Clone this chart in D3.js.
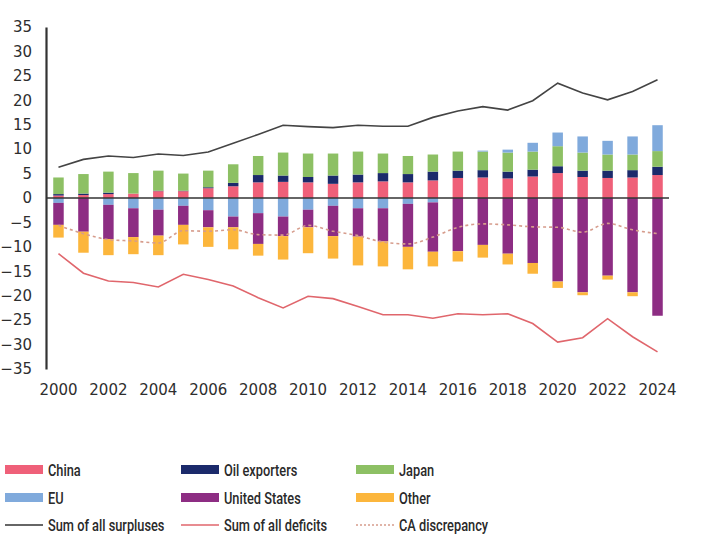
<!DOCTYPE html>
<html>
<head>
<meta charset="utf-8">
<script src="https://cdn.jsdelivr.net/npm/d3@7"></script>
<style>
  body { margin: 0; background: #fff; }
  svg { display: block; font-family: Roboto, "Open Sans", sans-serif; }
</style>
</head>
<body>
<svg width="707" height="551"></svg>
<script>
// ---- data (% of world GDP-ish units) ----
const years = d3.range(2000, 2025);
const china = [0.5, 0.6, 0.8, 0.9, 1.4, 1.4, 2.0, 2.4, 3.2, 3.3, 3.2, 2.9, 3.2, 3.4, 3.2, 3.6, 4.1, 4.2, 4.0, 4.4, 5.1, 4.3, 4.1, 4.2, 4.7];
const oil = [0.3, 0.3, 0.3, 0.0, 0.1, 0.1, 0.2, 0.7, 1.5, 1.3, 1.1, 1.7, 1.6, 1.7, 1.7, 1.8, 1.5, 1.5, 1.4, 1.4, 1.4, 1.3, 1.5, 1.5, 1.7];
const japan = [3.4, 4.0, 4.3, 4.2, 4.1, 3.5, 3.4, 3.8, 3.9, 4.7, 4.8, 4.5, 4.7, 4.0, 3.7, 3.5, 3.9, 3.8, 3.9, 3.7, 4.1, 3.7, 3.3, 3.2, 3.2];
const eu = [-1.0, 0.0, -1.4, -2.1, -2.4, -1.6, -2.5, -3.8, -3.1, -3.8, -2.4, -1.6, -2.1, -2.1, -1.2, -0.9, 0.0, 0.2, 0.6, 1.8, 2.8, 3.3, 2.8, 3.7, 5.3];
const us = [-4.5, -6.9, -7.0, -5.9, -5.3, -3.9, -3.5, -2.2, -6.3, -4.0, -3.6, -6.2, -5.8, -6.8, -8.8, -10.1, -10.9, -9.6, -11.4, -13.3, -17.1, -19.3, -15.9, -19.3, -24.1];
const other = [-2.6, -4.3, -3.3, -3.5, -4.0, -4.0, -4.0, -4.5, -2.4, -4.8, -5.3, -4.6, -5.9, -5.1, -4.6, -3.0, -2.1, -2.6, -2.2, -2.2, -1.3, -0.6, -0.8, -0.8, 0.0];
const surpluses = [6.3, 7.9, 8.6, 8.3, 9.0, 8.7, 9.4, 11.2, 13.0, 14.9, 14.6, 14.4, 14.9, 14.7, 14.7, 16.5, 17.8, 18.7, 18.0, 19.9, 23.5, 21.5, 20.1, 21.8, 24.2];
const deficits = [-11.4, -15.4, -17.0, -17.3, -18.2, -15.6, -16.7, -18.0, -20.4, -22.5, -20.1, -20.6, -22.2, -23.9, -23.9, -24.6, -23.7, -23.9, -23.7, -25.7, -29.5, -28.6, -24.7, -28.4, -31.5];
const discrepancy = [-5.6, -7.3, -8.5, -8.8, -9.2, -6.7, -6.8, -6.5, -7.5, -7.6, -5.6, -6.8, -7.7, -9.0, -9.4, -8.0, -6.0, -5.3, -5.5, -5.9, -6.0, -7.0, -5.2, -6.5, -7.3];
const yTicks = d3.range(-35, 36, 5);
const xTickYears = d3.range(2000, 2025, 2);

const barSeries = [
  { key: "China", values: china, color: "#ef6079" },
  { key: "Oil exporters", values: oil, color: "#1b2a6b" },
  { key: "Japan", values: japan, color: "#8dc064" },
  { key: "EU", values: eu, color: "#80aadc" },
  { key: "United States", values: us, color: "#8d2d83" },
  { key: "Other", values: other, color: "#fcb63c" }
];

const svg = d3.select("svg");
const x = d3.scaleBand().domain(years).range([46, 670]).paddingInner(0.58).paddingOuter(0.29);
const y = d3.scaleLinear().domain([-35, 35]).range([369, 27]);

// ---- stacked bars ----
const table = years.map((yr, i) => {
  const row = { year: yr };
  barSeries.forEach(s => { row[s.key] = s.values[i]; });
  return row;
});
const stack = d3.stack()
  .keys(barSeries.map(s => s.key))
  .offset(d3.stackOffsetDiverging);
const layers = stack(table);

svg.append("g")
  .selectAll("g")
  .data(layers)
  .join("g")
  .attr("fill", (d, i) => barSeries[i].color)
  .selectAll("rect")
  .data(d => d)
  .join("rect")
  .attr("x", d => x(d.data.year))
  .attr("width", x.bandwidth())
  .attr("y", d => y(Math.max(d[0], d[1])))
  .attr("height", d => Math.abs(y(d[0]) - y(d[1])));

// ---- axes ----
const cx = d => x(d) + x.bandwidth() / 2;

svg.append("line")
  .attr("x1", 46).attr("x2", 669)
  .attr("y1", y(0)).attr("y2", y(0))
  .attr("stroke", "#333").attr("stroke-width", 1.6);

const yAxis = svg.append("g")
  .attr("transform", "translate(46,0)")
  .call(d3.axisLeft(y).tickValues(yTicks).tickSize(0).tickPadding(14));
yAxis.select(".domain").attr("stroke", "#333").attr("stroke-width", 2.2);
yAxis.selectAll("text")
  .attr("font-family", "DejaVu Sans, sans-serif")
  .attr("font-size", 15).attr("fill", "#2e2e2e");

const xAxis = svg.append("g")
  .attr("transform", "translate(0,369)")
  .call(d3.axisBottom(x).tickValues(xTickYears).tickSize(0).tickPadding(15));
xAxis.select(".domain").remove();
xAxis.selectAll("text")
  .attr("font-family", "DejaVu Sans, sans-serif")
  .attr("font-size", 15).attr("fill", "#2e2e2e");

// ---- lines ----
const line = d3.line().x((d, i) => cx(years[i])).y(d => y(d));

svg.append("path")
  .datum(surpluses)
  .attr("fill", "none").attr("stroke", "#444").attr("stroke-width", 1.6)
  .attr("d", line);

svg.append("path")
  .datum(deficits)
  .attr("fill", "none").attr("stroke", "#e0666c").attr("stroke-width", 1.6)
  .attr("d", line);

svg.append("path")
  .datum(discrepancy)
  .attr("fill", "none").attr("stroke", "#d69c8c").attr("stroke-width", 1.6)
  .attr("stroke-dasharray", "3,3")
  .attr("d", line.curve(d3.curveMonotoneX));

// ---- legend ----
const legendItems = [
  { label: "China", type: "box", color: "#ef6079" },
  { label: "Oil exporters", type: "box", color: "#1b2a6b" },
  { label: "Japan", type: "box", color: "#8dc064" },
  { label: "EU", type: "box", color: "#80aadc" },
  { label: "United States", type: "box", color: "#8d2d83" },
  { label: "Other", type: "box", color: "#fcb63c" },
  { label: "Sum of all surpluses", type: "line", color: "#333" },
  { label: "Sum of all deficits", type: "line", color: "#e0666c" },
  { label: "CA discrepancy", type: "dash", color: "#d69c8c" }
];
const colX = [5, 181, 356];
const rowY = [470, 498, 525];

const leg = svg.append("g")
  .selectAll("g")
  .data(legendItems)
  .join("g")
  .attr("transform", (d, i) => "translate(" + colX[i % 3] + "," + rowY[Math.floor(i / 3)] + ")");

leg.filter(d => d.type === "box").append("rect")
  .attr("x", 0).attr("y", -5).attr("width", 38).attr("height", 9)
  .attr("fill", d => d.color);

leg.filter(d => d.type !== "box").append("line")
  .attr("x1", 0).attr("x2", 38).attr("y1", 0).attr("y2", 0)
  .attr("stroke", d => d.color)
  .attr("stroke-width", d => d.type === "dash" ? 1.4 : 1.6)
  .attr("stroke-dasharray", d => d.type === "dash" ? "2,2" : null);

// the legend face in the original is condensed, so squeeze Roboto a little
leg.append("text")
  .attr("transform", "translate(43,0) scale(0.8,1)")
  .attr("dy", "0.35em")
  .attr("font-size", 16).attr("font-weight", 500).attr("fill", "#2a2a2a")
  .text(d => d.label);
</script>
</body>
</html>
